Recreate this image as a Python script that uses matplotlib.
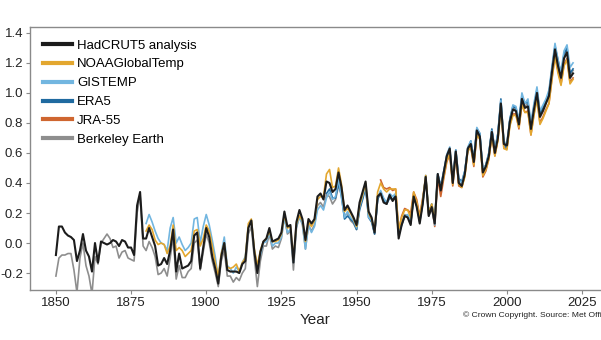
import matplotlib
matplotlib.use("Agg")
import matplotlib.pyplot as plt
import numpy as np

plt.rcParams['font.family'] = ['Liberation Sans', 'DejaVu Sans']

# annual global mean temperature anomaly (degC, relative to 1850-1900)
hadcrut_years = np.arange(1850, 2023)
hadcrut = [
    -0.08, 0.11, 0.11, 0.07, 0.05, 0.04, 0.02, -0.12, -0.05, 0.06,
    -0.05, -0.09, -0.19, 0.00, -0.13, 0.01, 0.00, -0.01, 0.00, 0.02,
    0.01, -0.02, 0.02, 0.01, -0.03, -0.03, -0.08, 0.25, 0.34, 0.03,
    0.03, 0.10, 0.04, -0.02, -0.15, -0.14, -0.10, -0.14, -0.05, 0.09,
    -0.19, -0.07, -0.17, -0.16, -0.15, -0.12, 0.05, 0.07, -0.17, -0.03,
    0.10, 0.04, -0.09, -0.17, -0.27, -0.09, 0.00, -0.18, -0.19, -0.19,
    -0.19, -0.20, -0.14, -0.12, 0.10, 0.15, -0.06, -0.20, -0.06, 0.01,
    0.03, 0.10, 0.01, 0.02, 0.03, 0.07, 0.21, 0.11, 0.12, -0.13,
    0.14, 0.22, 0.16, 0.02, 0.16, 0.13, 0.16, 0.31, 0.33, 0.29,
    0.41, 0.40, 0.34, 0.36, 0.47, 0.37, 0.22, 0.25, 0.21, 0.17,
    0.12, 0.27, 0.34, 0.41, 0.21, 0.17, 0.07, 0.31, 0.33, 0.27,
    0.26, 0.32, 0.28, 0.31, 0.03, 0.12, 0.18, 0.17, 0.12, 0.31,
    0.24, 0.13, 0.26, 0.44, 0.18, 0.24, 0.13, 0.46, 0.35, 0.47,
    0.58, 0.63, 0.40, 0.61, 0.40, 0.38, 0.46, 0.63, 0.66, 0.54,
    0.75, 0.71, 0.47, 0.51, 0.58, 0.74, 0.60, 0.70, 0.93, 0.66,
    0.65, 0.81, 0.89, 0.88, 0.79, 0.96, 0.90, 0.91, 0.76, 0.89,
    1.00, 0.84, 0.88, 0.93, 0.98, 1.14, 1.29, 1.18, 1.10, 1.23,
    1.27, 1.10, 1.13,
]

noaa_years = np.arange(1880, 2023)
noaa = [
    0.08, 0.12, 0.09, 0.02, -0.01, 0.00, -0.01, -0.07, -0.02, 0.12,
    -0.05, -0.03, -0.05, -0.09, -0.07, -0.05, 0.08, 0.09, -0.02, 0.03,
    0.12, 0.08, -0.02, -0.13, -0.22, -0.07, 0.00, -0.16, -0.17, -0.16,
    -0.14, -0.19, -0.13, -0.10, 0.13, 0.16, -0.04, -0.15, -0.05, 0.01,
    0.03, 0.08, 0.01, 0.01, 0.02, 0.06, 0.19, 0.10, 0.11, -0.10,
    0.13, 0.18, 0.15, 0.01, 0.14, 0.11, 0.15, 0.29, 0.31, 0.31,
    0.46, 0.49, 0.37, 0.38, 0.50, 0.39, 0.21, 0.23, 0.20, 0.16,
    0.11, 0.25, 0.32, 0.40, 0.20, 0.16, 0.08, 0.34, 0.40, 0.36,
    0.34, 0.36, 0.36, 0.36, 0.09, 0.17, 0.22, 0.22, 0.17, 0.34,
    0.27, 0.17, 0.29, 0.45, 0.20, 0.26, 0.15, 0.44, 0.36, 0.44,
    0.55, 0.59, 0.39, 0.59, 0.39, 0.37, 0.44, 0.61, 0.64, 0.52,
    0.72, 0.69, 0.45, 0.49, 0.56, 0.71, 0.58, 0.68, 0.90, 0.63,
    0.62, 0.78, 0.85, 0.85, 0.77, 0.92, 0.87, 0.87, 0.72, 0.85,
    0.96, 0.79, 0.83, 0.88, 0.93, 1.09, 1.24, 1.13, 1.05, 1.18,
    1.22, 1.06, 1.09,
]

gistemp_years = np.arange(1880, 2023)
gistemp = [
    0.13, 0.19, 0.14, 0.08, 0.03, 0.00, -0.01, -0.05, 0.10, 0.17,
    0.00, 0.04, -0.01, -0.05, -0.03, 0.00, 0.16, 0.17, 0.00, 0.11,
    0.19, 0.12, 0.02, -0.09, -0.24, -0.07, 0.04, -0.15, -0.17, -0.20,
    -0.16, -0.19, -0.13, -0.09, 0.11, 0.15, -0.05, -0.15, -0.08, 0.00,
    0.01, 0.07, -0.02, 0.00, 0.00, 0.04, 0.17, 0.07, 0.09, -0.13,
    0.11, 0.17, 0.13, -0.04, 0.12, 0.07, 0.11, 0.22, 0.25, 0.22,
    0.30, 0.34, 0.29, 0.31, 0.43, 0.30, 0.17, 0.21, 0.17, 0.15,
    0.10, 0.24, 0.31, 0.38, 0.17, 0.15, 0.07, 0.30, 0.35, 0.30,
    0.27, 0.33, 0.31, 0.33, 0.05, 0.12, 0.18, 0.19, 0.14, 0.31,
    0.26, 0.14, 0.27, 0.44, 0.19, 0.25, 0.12, 0.46, 0.37, 0.47,
    0.59, 0.64, 0.41, 0.62, 0.42, 0.40, 0.48, 0.64, 0.68, 0.56,
    0.77, 0.73, 0.49, 0.52, 0.60, 0.75, 0.62, 0.73, 0.95, 0.67,
    0.67, 0.82, 0.92, 0.91, 0.82, 1.00, 0.93, 0.96, 0.80, 0.93,
    1.04, 0.88, 0.92, 0.96, 1.02, 1.18, 1.33, 1.22, 1.14, 1.28,
    1.32, 1.17, 1.20,
]

era5_years = np.arange(1940, 2023)
era5 = [
    0.33, 0.36, 0.30, 0.30, 0.40, 0.31, 0.16, 0.18, 0.16, 0.14,
    0.09, 0.22, 0.29, 0.37, 0.17, 0.14, 0.06, 0.29, 0.34, 0.29,
    0.26, 0.30, 0.29, 0.32, 0.06, 0.12, 0.18, 0.18, 0.13, 0.31,
    0.25, 0.15, 0.27, 0.45, 0.20, 0.26, 0.16, 0.46, 0.38, 0.48,
    0.58, 0.62, 0.41, 0.62, 0.43, 0.41, 0.48, 0.63, 0.68, 0.56,
    0.76, 0.73, 0.48, 0.52, 0.60, 0.76, 0.62, 0.73, 0.96, 0.66,
    0.63, 0.83, 0.91, 0.90, 0.81, 0.98, 0.93, 0.94, 0.78, 0.91,
    1.02, 0.86, 0.90, 0.95, 1.00, 1.16, 1.31, 1.22, 1.12, 1.26,
    1.30, 1.13, 1.16,
]

jra55_years = np.arange(1958, 2023)
jra55 = [
    0.42, 0.37, 0.36, 0.37, 0.35, 0.36, 0.08, 0.18, 0.23, 0.22,
    0.20, 0.34, 0.29, 0.18, 0.30, 0.43, 0.19, 0.25, 0.11, 0.43,
    0.31, 0.43, 0.54, 0.59, 0.38, 0.59, 0.38, 0.37, 0.45, 0.62,
    0.64, 0.51, 0.72, 0.70, 0.44, 0.48, 0.56, 0.72, 0.58, 0.69,
    0.91, 0.63, 0.63, 0.79, 0.86, 0.86, 0.76, 0.93, 0.87, 0.88,
    0.72, 0.86, 0.97, 0.80, 0.84, 0.89, 0.93, 1.10, 1.25, 1.15,
    1.06, 1.19, 1.23, 1.07, 1.10,
]

berkeley_years = np.arange(1850, 2023)
berkeley = [
    -0.22, -0.10, -0.08, -0.08, -0.07, -0.07, -0.18, -0.33, -0.10, 0.00,
    -0.15, -0.22, -0.34, -0.09, -0.14, 0.00, 0.03, 0.06, 0.03, -0.03,
    -0.02, -0.10, -0.06, -0.05, -0.10, -0.11, -0.12, 0.20, 0.32, -0.02,
    -0.05, 0.01, -0.03, -0.09, -0.21, -0.20, -0.17, -0.22, -0.10, 0.04,
    -0.24, -0.15, -0.23, -0.23, -0.19, -0.17, 0.00, 0.02, -0.18, -0.06,
    0.06, 0.00, -0.12, -0.20, -0.29, -0.12, -0.05, -0.22, -0.22, -0.26,
    -0.23, -0.25, -0.20, -0.17, 0.06, 0.11, -0.10, -0.29, -0.12, -0.02,
    -0.02, 0.06, -0.04, -0.02, -0.03, 0.03, 0.18, 0.06, 0.08, -0.18,
    0.10, 0.18, 0.12, -0.04, 0.12, 0.08, 0.12, 0.25, 0.27, 0.24,
    0.32, 0.31, 0.26, 0.29, 0.38, 0.33, 0.18, 0.20, 0.15, 0.13,
    0.09, 0.23, 0.30, 0.37, 0.19, 0.16, 0.06, 0.29, 0.34, 0.28,
    0.26, 0.31, 0.29, 0.31, 0.05, 0.13, 0.19, 0.18, 0.13, 0.30,
    0.25, 0.14, 0.26, 0.43, 0.18, 0.23, 0.13, 0.45, 0.35, 0.46,
    0.57, 0.62, 0.41, 0.61, 0.40, 0.38, 0.47, 0.63, 0.66, 0.54,
    0.76, 0.72, 0.48, 0.52, 0.59, 0.75, 0.61, 0.72, 0.94, 0.67,
    0.66, 0.82, 0.90, 0.89, 0.80, 0.97, 0.91, 0.93, 0.78, 0.91,
    1.02, 0.86, 0.90, 0.95, 1.00, 1.16, 1.31, 1.20, 1.12, 1.25,
    1.29, 1.12, 1.15,
]

series = [
    ('HadCRUT5 analysis', hadcrut_years, hadcrut, '#1c1c1c', 1.5),
    ('NOAAGlobalTemp', noaa_years, noaa, '#e3a72f', 1.2),
    ('GISTEMP', gistemp_years, gistemp, '#72b6e0', 1.2),
    ('ERA5', era5_years, era5, '#1f6aa0', 1.2),
    ('JRA-55', jra55_years, jra55, '#cf6630', 1.2),
    ('Berkeley Earth', berkeley_years, berkeley, '#8e8e8e', 1.2),
]

fig = plt.figure(figsize=(6.01, 3.4), dpi=100)
ax = fig.add_axes([0.050, 0.147, 0.950, 0.774])

# draw the reference series last so it sits on top
for i, (name, yrs, vals, col, lw) in reversed(list(enumerate(series))):
    ax.plot(yrs, vals, color=col, lw=lw, label=name, zorder=10 - i)

ax.set_xlim(1841.4, 2031.3)
ax.set_ylim(-0.313, 1.44)
ax.set_xticks([1850, 1875, 1900, 1925, 1950, 1975, 2000, 2025])
ax.set_yticks([-0.2, 0.0, 0.2, 0.4, 0.6, 0.8, 1.0, 1.2, 1.4])
ax.set_yticklabels(['-0.2', '0.0', '0.2', '0.4', '0.6', '0.8', '1.0', '1.2', '1.4'])

for side in ['left', 'bottom', 'top']:
    ax.spines[side].set_color('#8a8a8a')
    ax.spines[side].set_linewidth(1.0)
ax.spines['right'].set_visible(False)
ax.tick_params(colors='#8a8a8a', labelcolor='#222222', labelsize=9.5,
               length=3, width=0.8, pad=2)

ax.set_xlabel('Year', fontsize=11, color='#222222', labelpad=3)

handles, labels = ax.get_legend_handles_labels()
order = [labels.index(s[0]) for s in series]
leg = ax.legend([handles[k] for k in order], [labels[k] for k in order],
                loc='upper left', frameon=False, fontsize=9.5,
                handlelength=2.2, handletextpad=0.4, labelspacing=0.5,
                borderaxespad=0.55, bbox_to_anchor=(0.0, 1.0))
for line in leg.get_lines():
    line.set_linewidth(3)

fig.text(0.770, 0.074, '\u00a9 Crown Copyright. Source: Met Office', fontsize=6.1,
         color='#222222', va='center', ha='left')

fig.savefig('out.png', dpi=100)
